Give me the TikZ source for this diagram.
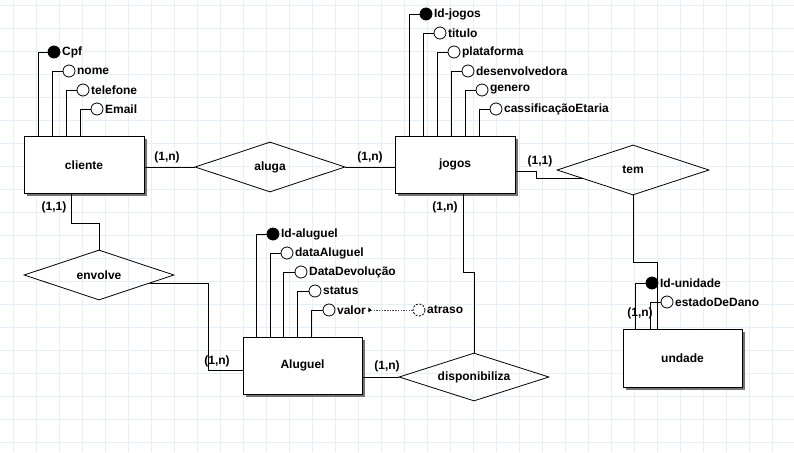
\documentclass[tikz,border=0pt]{standalone}
\usepackage{fontspec}
\setmainfont{Liberation Sans}
\usetikzlibrary{shapes.geometric,calc,arrows.meta,shadows}
\definecolor{gridc}{RGB}{230,238,247}
\begin{document}
\begin{tikzpicture}[x=1pt,y=-1pt,
  font=\fontsize{12}{13}\selectfont\bfseries,
  gridline/.style={draw=gridc,line width=0.8pt},
  entity/.style={draw=black,fill=white,line width=1pt,minimum width=120pt,minimum height=57pt,inner sep=0pt,
     drop shadow={shadow xshift=2.5pt,shadow yshift=-2.5pt,fill=black!55,opacity=1}},
  rel/.style={draw=black,diamond,shape aspect=3,inner sep=0pt,minimum width=150pt,minimum height=50pt,line width=0.8pt},
  attr/.style={draw=black,circle,minimum size=12pt,inner sep=0pt,line width=0.8pt,fill=white,label distance=4pt},
  keyattr/.style={attr,fill=black},
  derived/.style={attr,dashed,dash pattern=on 2pt off 1.5pt},
  alabel/.style={inner sep=1.5pt},
  conn/.style={draw=black,line width=0.8pt},
  card/.style={inner sep=0pt},
  dotconn/.style={draw=black!70,line width=0.6pt,dash pattern=on 1.5pt off 1.2pt}
]
\useasboundingbox (0,0) rectangle (794,452);
\fill[white] (0,0) rectangle (794,452);
\foreach \i in {0,...,34} { \draw[gridline] ({13.5+23*\i},0) -- ({13.5+23*\i},452); }
\foreach \j in {0,...,19} { \draw[gridline] (0,{5+23*\j}) -- (794,{5+23*\j}); }

% entities
\node[entity] (cliente) at (84,165) {cliente};
\node[entity] (jogos) at (455,164.5) {jogos};
\node[entity,minimum width=119pt] (aluguel) at (302.5,365.5) {Aluguel};
\node[entity,minimum width=119pt,minimum height=58pt] (undade) at (682.5,358) {undade};

% relationships
\node[rel] (aluga) at (270,167) {aluga};
\node[rel,minimum width=152pt] (tem) at (633,170) {tem};
\node[rel] (envolve) at (99,275) {envolve};
\node[rel,minimum height=48pt] (disp) at (474,377) {disponibiliza};

% cliente attributes
\node[keyattr,label={[alabel]right:Cpf}] (cpf) at (54,52) {};
\node[attr,label={[alabel]right:nome}] (nome) at (69,71) {};
\node[attr,label={[alabel]right:telefone}] (telefone) at (83,90) {};
\node[attr,label={[alabel]right:Email}] (email) at (97,109) {};
\draw[conn] (cpf.west) -| ([xshift=15pt]cliente.north west);
\draw[conn] (nome.west) -| ([xshift=29pt]cliente.north west);
\draw[conn] (telefone.west) -| ([xshift=43pt]cliente.north west);
\draw[conn] (email.west) -| ([xshift=57pt]cliente.north west);

% jogos attributes
\node[keyattr,label={[alabel]right:Id-jogos}] (idjogos) at (426,14) {};
\node[attr,label={[alabel]right:titulo}] (titulo) at (440,33) {};
\node[attr,label={[alabel]right:plataforma}] (plataforma) at (454,52) {};
\node[attr,label={[alabel]right:desenvolvedora}] (desenv) at (468,71) {};
\node[attr,label={[alabel]right:genero}] (genero) at (482,90) {};
\node[attr,label={[alabel]right:cassificaçãoEtaria}] (classif) at (496,109) {};
\draw[conn] (idjogos.west) -| ([xshift=15pt]jogos.north west);
\draw[conn] (titulo.west) -| ([xshift=29pt]jogos.north west);
\draw[conn] (plataforma.west) -| ([xshift=43pt]jogos.north west);
\draw[conn] (desenv.west) -| ([xshift=57pt]jogos.north west);
\draw[conn] (genero.west) -| ([xshift=71pt]jogos.north west);
\draw[conn] (classif.west) -| ([xshift=85pt]jogos.north west);

% aluguel attributes
\node[keyattr,label={[alabel]right:Id-aluguel}] (idaluguel) at (273,234) {};
\node[attr,label={[alabel]right:dataAluguel}] (dataal) at (287,253) {};
\node[attr,label={[alabel]right:DataDevolução}] (datadev) at (301,272) {};
\node[attr,label={[alabel]right:status}] (status) at (315,291) {};
\node[attr,label={[alabel,name=valorl]right:valor}] (valor) at (329,310) {};
\node[derived,label={[alabel]right:atraso}] (atraso) at (419,310) {};
\draw[conn] (idaluguel.west) -| ([xshift=14pt]aluguel.north west);
\draw[conn] (dataal.west) -| ([xshift=28pt]aluguel.north west);
\draw[conn] (datadev.west) -| ([xshift=41pt]aluguel.north west);
\draw[conn] (status.west) -| ([xshift=55pt]aluguel.north west);
\draw[conn] (valor.west) -| ([xshift=69pt]aluguel.north west);
\draw[dotconn,{Triangle[reversed,width=4.5pt,length=3pt,black]}-] ([xshift=1pt]valorl.east) -- (atraso.west);

% undade attributes
\node[keyattr,label={[alabel]right:Id-unidade}] (idunidade) at (652,283) {};
\node[attr,label={[alabel]right:estadoDeDano}] (estado) at (667,302) {};
\draw[conn] (idunidade.west) -| ([xshift=13pt]undade.north west);
\draw[conn] (estado.west) -| ([xshift=28pt]undade.north west);

% connectors
\coordinate (temin) at ($(tem.west)!0.34!(tem.south)$);
\coordinate (envout) at ($(envolve.east)!0.33!(envolve.south)$);
\draw[conn] (aluga.west -| cliente.east) -- (aluga.west);
\draw[conn] (aluga.east) -- (aluga.east -| jogos.west);
\draw[conn] ([yshift=-6.5pt]jogos.east) -- ++(21,0) |- (temin);
\draw[conn] (tem.south) -- ++(0,67) -| ([xshift=35pt]undade.north west);
\draw[conn] ([xshift=48pt]cliente.south west) -- ++(0,29) -| (envolve.north);
\draw[conn] (envout) -- ++(59,0) |- ([yshift=-4.5pt]aluguel.west);
\draw[conn] (disp.west -| aluguel.east) -- (disp.west);
\draw[conn] ([xshift=69pt]jogos.south west) -- ++(0,79) -| (disp.north);

% cardinalities
\node[card] (c1) at (167,157) {(1,n)};
\node[card] (c2) at (370,157) {(1,n)};
\node[card] (c3) at (540,161) {(1,1)};
\node[card] (c4) at (54,207) {(1,1)};
\node[card] (c5) at (217,361) {(1,n)};
\node[card] (c6) at (387,366) {(1,n)};
\node[card] (c7) at (445,207) {(1,n)};
\node[card] (c8) at (640,313) {(1,n)};
\end{tikzpicture}
\end{document}
